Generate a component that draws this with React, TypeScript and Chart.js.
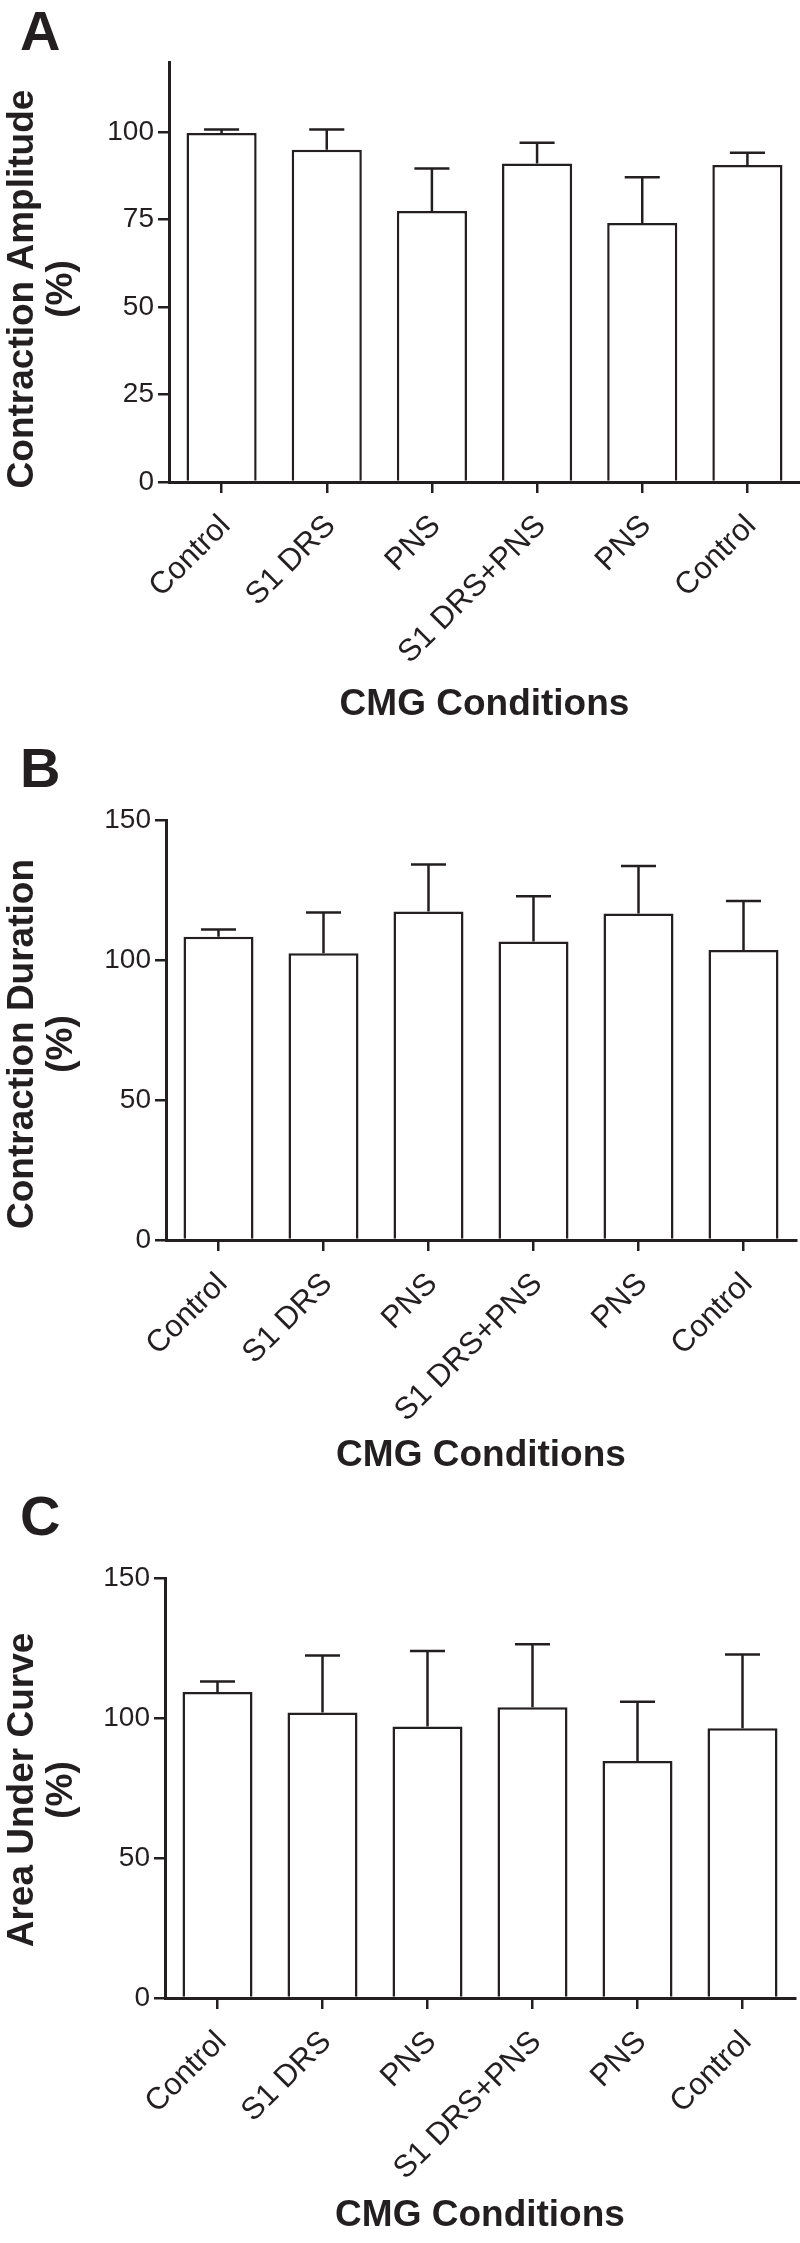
import React, { useEffect, useRef } from "react";
import { Chart, registerables } from "chart.js";

Chart.register(...registerables);

// ---------- data ----------
const categories = ["Control", "S1 DRS", "PNS", "S1 DRS+PNS", "PNS", "Control"];

const amplitudeMeans = [99.7, 94.9, 77.4, 91.0, 74.0, 90.6];
const amplitudeErrors = [1.0, 5.8, 12.2, 5.9, 13.1, 3.5];
const amplitudeTicks = [0, 25, 50, 75, 100];

const durationMeans = [108.3, 102.4, 117.3, 106.6, 116.6, 103.6];
const durationErrors = [2.6, 14.6, 16.8, 16.2, 17.0, 17.5];
const durationTicks = [0, 50, 100, 150];

const aucMeans = [109.3, 102.0, 97.0, 103.8, 84.6, 96.3];
const aucErrors = [3.7, 20.3, 26.9, 22.5, 21.2, 26.4];
const aucTicks = [0, 50, 100, 150];

const xTitle = "CMG Conditions";

// ---------- layout ----------
type Panel = {
  letter: string;
  yTitle: string[];
  means: number[];
  errors: number[];
  ticks: number[];
  yMax: number;
  pageTop: number;
  height: number;
  chartTop: number;
  chartBottom: number;
  axisX: number;
  padRight: number;
  titlePad: number;
  yTitleCenter: number;
  letterBaseline: number;
};

const panels: Panel[] = [
  {
    letter: "A",
    yTitle: ["Contraction Amplitude", "(%)"],
    means: amplitudeMeans,
    errors: amplitudeErrors,
    ticks: amplitudeTicks,
    yMax: 120,
    pageTop: 0,
    height: 740,
    chartTop: 62,
    chartBottom: 482,
    axisX: 169,
    padRight: 0,
    titlePad: 12.8,
    yTitleCenter: 289,
    letterBaseline: 50,
  },
  {
    letter: "B",
    yTitle: ["Contraction Duration", "(%)"],
    means: durationMeans,
    errors: durationErrors,
    ticks: durationTicks,
    yMax: 150,
    pageTop: 740,
    height: 760,
    chartTop: 80,
    chartBottom: 500,
    axisX: 166,
    padRight: 4,
    titlePad: 22.3,
    yTitleCenter: 304,
    letterBaseline: 47,
  },
  {
    letter: "C",
    yTitle: ["Area Under Curve", "(%)"],
    means: aucMeans,
    errors: aucErrors,
    ticks: aucTicks,
    yMax: 150,
    pageTop: 1490,
    height: 753,
    chartTop: 88,
    chartBottom: 508,
    axisX: 165,
    padRight: 5,
    titlePad: 5.3,
    yTitleCenter: 300,
    letterBaseline: 45,
  },
];

const INK = "#231f20";
const FONT = "'Liberation Sans', Arial, Helvetica, sans-serif";
const Y_TITLE_BASELINES = [32.5, 72];

function PanelChart({ p }: { p: Panel }) {
  const ref = useRef<HTMLCanvasElement>(null);

  useEffect(() => {
    const canvas = ref.current;
    if (!canvas) return;

    const errorBars = {
      id: "errorBars",
      afterDatasetsDraw(chart: any) {
        const ctx = chart.ctx;
        const meta = chart.getDatasetMeta(0);
        const yScale = chart.scales.y;
        ctx.save();
        ctx.strokeStyle = INK;
        ctx.lineWidth = 2.5;
        meta.data.forEach((el: any, i: number) => {
          const { x, y, width } = el.getProps(["x", "y", "width"], true);
          const top = yScale.getPixelForValue(p.means[i] + p.errors[i]);
          const half = width / 4;
          ctx.beginPath();
          ctx.moveTo(x, y);
          ctx.lineTo(x, top);
          ctx.moveTo(x - half, top);
          ctx.lineTo(x + half, top);
          ctx.stroke();
        });
        ctx.restore();
      },
    };

    const decorations = {
      id: "decorations",
      afterDraw(chart: any) {
        const ctx = chart.ctx;
        ctx.save();
        ctx.fillStyle = INK;
        ctx.textBaseline = "alphabetic";
        ctx.textAlign = "left";
        ctx.font = `bold 56px ${FONT}`;
        ctx.fillText(p.letter, 20, p.letterBaseline);
        ctx.font = `bold 37px ${FONT}`;
        ctx.textAlign = "center";
        p.yTitle.forEach((line, i) => {
          ctx.save();
          ctx.translate(Y_TITLE_BASELINES[i], p.yTitleCenter);
          ctx.rotate(-Math.PI / 2);
          ctx.fillText(line, 0, 0);
          ctx.restore();
        });
        ctx.restore();
      },
    };

    const chart = new Chart(canvas, {
      type: "bar",
      data: {
        labels: categories,
        datasets: [
          {
            data: p.means,
            backgroundColor: "#ffffff",
            borderColor: INK,
            borderWidth: 2.5,
            barPercentage: 0.667,
            categoryPercentage: 1,
          },
        ],
      },
      options: {
        responsive: false,
        animation: false,
        devicePixelRatio: 1,
        layout: {
          padding: { top: p.chartTop, right: p.padRight, left: 0, bottom: 0 },
        },
        plugins: {
          legend: { display: false },
          tooltip: { enabled: false },
        },
        scales: {
          x: {
            offset: true,
            grid: {
              display: true,
              drawOnChartArea: false,
              drawTicks: true,
              tickLength: 11,
              lineWidth: 2.5,
              color: INK,
              offset: false,
            },
            border: { display: true, width: 3, color: INK },
            ticks: {
              color: INK,
              font: { family: FONT, size: 31 },
              minRotation: 45,
              maxRotation: 45,
              autoSkip: false,
              padding: 15,
              labelOffset: 4,
            },
            title: {
              display: true,
              text: xTitle,
              color: INK,
              font: { family: FONT, size: 37, weight: "bold" },
              padding: { top: 0, bottom: p.titlePad },
            },
            afterFit: (s: any) => {
              s.height = p.height - p.chartBottom;
              s.paddingLeft = 0;
              s.paddingRight = 0;
            },
          },
          y: {
            min: 0,
            max: p.yMax,
            grid: {
              display: true,
              drawOnChartArea: false,
              drawTicks: true,
              tickLength: 11,
              lineWidth: 2.5,
              color: INK,
            },
            border: { display: true, width: 3, color: INK },
            ticks: {
              color: INK,
              font: { family: FONT, size: 28 },
              padding: 4,
            },
            afterBuildTicks: (s: any) => {
              s.ticks = p.ticks.map((v) => ({ value: v }));
            },
            afterFit: (s: any) => {
              s.width = p.axisX;
              s.paddingTop = 0;
              s.paddingBottom = 0;
            },
          },
        },
      } as any,
      plugins: [errorBars, decorations],
    });

    return () => chart.destroy();
  }, [p]);

  return (
    <canvas
      ref={ref}
      width={800}
      height={p.height}
      style={{
        position: "absolute",
        left: 0,
        top: p.pageTop,
        width: 800,
        height: p.height,
        display: "block",
      }}
    />
  );
}

export default function App() {
  return (
    <div
      style={{
        position: "absolute",
        left: 0,
        top: 0,
        width: 800,
        height: 2243,
        background: "#ffffff",
        overflow: "hidden",
      }}
    >
      {panels.map((p) => (
        <PanelChart key={p.letter} p={p} />
      ))}
    </div>
  );
}
